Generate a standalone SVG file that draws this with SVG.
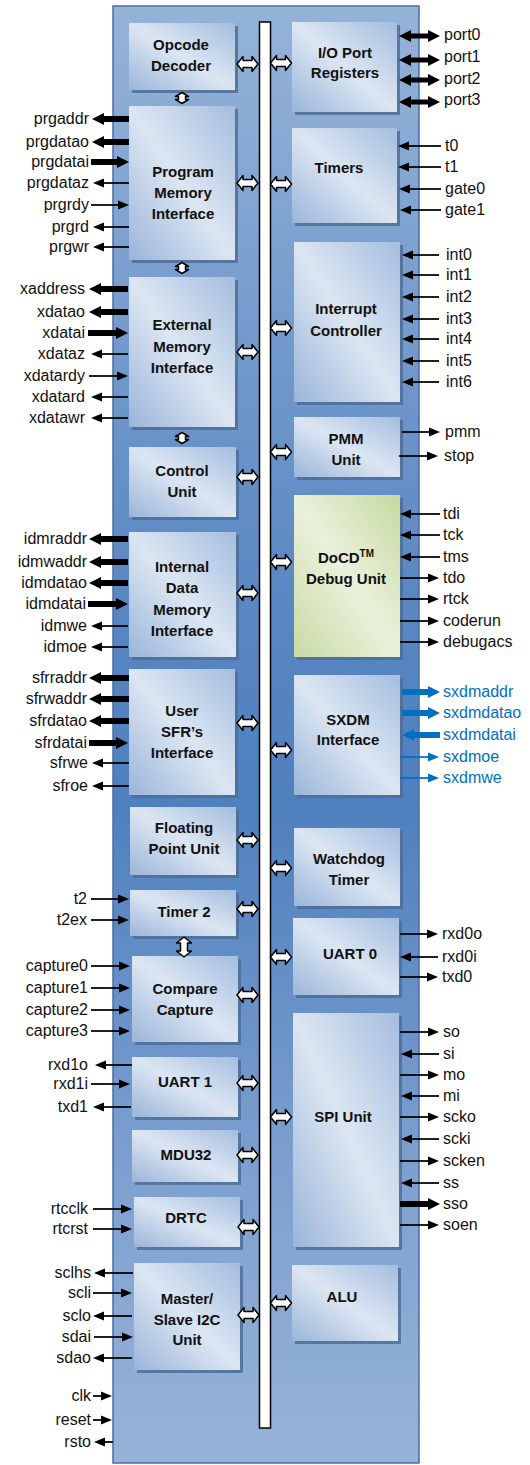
<svg xmlns="http://www.w3.org/2000/svg" xmlns:xlink="http://www.w3.org/1999/xlink" width="530" height="1465" viewBox="0 0 530 1465">
<style>
text{font-family:"Liberation Sans",Arial,sans-serif;}
.b{font-size:15px;font-weight:bold;fill:#111;text-anchor:middle;}
.sl{font-size:16px;fill:#111;text-anchor:end;}
.sr{font-size:16px;fill:#111;text-anchor:start;}
.blue{fill:#0070c0;}
.blk{fill:url(#bg);}
.grn{fill:url(#gg);}
.sh{fill:#4f6d96;opacity:.85;}
.t{stroke:#000;stroke-width:1.75;fill:none;marker-end:url(#a);}
.T{stroke:#000;stroke-width:6;fill:none;marker-end:url(#A);}
.tb{stroke:#0070c0;stroke-width:1.75;fill:none;marker-end:url(#ab);}
.Tb{stroke:#0070c0;stroke-width:6;fill:none;marker-end:url(#Ab);}
.D{stroke:#000;stroke-width:5;fill:none;marker-start:url(#A);marker-end:url(#A);}
.ba{fill:#fff;stroke:#000;stroke-width:1.5;stroke-linejoin:round;}
</style>
<defs>
<linearGradient id="mg" x1="0" y1="0" x2="0" y2="1">
<stop offset="0" stop-color="#95b3d8"/>
<stop offset="0.42" stop-color="#5886c2"/>
<stop offset="0.55" stop-color="#4f80be"/>
<stop offset="0.8" stop-color="#7ea0d0"/>
<stop offset="1" stop-color="#96b3d8"/>
</linearGradient>
<linearGradient id="bg" x1="0" y1="1" x2="1" y2="0">
<stop offset="0" stop-color="#9ab5da"/>
<stop offset="0.5" stop-color="#dce6f2"/>
<stop offset="1" stop-color="#a4bddf"/>
</linearGradient>
<linearGradient id="gg" x1="0" y1="1" x2="1" y2="0">
<stop offset="0" stop-color="#c8daa3"/>
<stop offset="0.5" stop-color="#eaf1dc"/>
<stop offset="1" stop-color="#c6d9a0"/>
</linearGradient>
<marker id="a" markerUnits="userSpaceOnUse" markerWidth="11" markerHeight="9" refX="0" refY="4.5" orient="auto-start-reverse" overflow="visible"><path d="M0,0 L11,4.5 L0,9 Z" fill="#000"/></marker>
<marker id="A" markerUnits="userSpaceOnUse" markerWidth="12" markerHeight="12" refX="0" refY="6" orient="auto-start-reverse" overflow="visible"><path d="M0,0 L12,6 L0,12 Z" fill="#000"/></marker>
<marker id="ab" markerUnits="userSpaceOnUse" markerWidth="11" markerHeight="9" refX="0" refY="4.5" orient="auto-start-reverse" overflow="visible"><path d="M0,0 L11,4.5 L0,9 Z" fill="#0070c0"/></marker>
<marker id="Ab" markerUnits="userSpaceOnUse" markerWidth="12" markerHeight="12" refX="0" refY="6" orient="auto-start-reverse" overflow="visible"><path d="M0,0 L12,6 L0,12 Z" fill="#0070c0"/></marker>
<path id="hb" class="ba" d="M-10.5,0 L-4.5,-7.5 L-4.5,-3.5 L4.5,-3.5 L4.5,-7.5 L10.5,0 L4.5,7.5 L4.5,3.5 L-4.5,3.5 L-4.5,7.5 Z"/>
<path id="vs" class="ba" d="M0,-5.5 L6.5,-1.5 L3.5,-1.5 L3.5,1.5 L6.5,1.5 L0,5.5 L-6.5,1.5 L-3.5,1.5 L-3.5,-1.5 L-6.5,-1.5 Z"/>
<path id="vl" class="ba" d="M0,-10 L7.5,-4 L3.5,-4 L3.5,4 L7.5,4 L0,10 L-7.5,4 L-3.5,4 L-3.5,-4 L-7.5,-4 Z"/>
</defs>

<g id="core">
<rect x="113" y="6" width="306" height="1457" fill="url(#mg)" stroke="#4a6ea3" stroke-width="1.5"/>
<rect x="259.5" y="22" width="11" height="1406" fill="#fff" stroke="#000" stroke-width="1.5"/>
</g>

<g id="opcode"><rect class="sh" x="132" y="26" width="106" height="67"/><rect class="blk" x="129" y="23" width="106" height="67"/><text class="b" x="181" y="50">Opcode</text><text class="b" x="181" y="71">Decoder</text></g>
<g id="progmem"><rect class="sh" x="132" y="109" width="106" height="154"/><rect class="blk" x="129" y="106" width="106" height="154"/><text class="b" x="183" y="177">Program</text><text class="b" x="183" y="198">Memory</text><text class="b" x="183" y="219">Interface</text></g>
<g id="extmem"><rect class="sh" x="132" y="280" width="106" height="150"/><rect class="blk" x="129" y="277" width="106" height="150"/><text class="b" x="182" y="330">External</text><text class="b" x="182" y="352">Memory</text><text class="b" x="182" y="373">Interface</text></g>
<g id="control"><rect class="sh" x="132" y="450" width="107" height="70"/><rect class="blk" x="129" y="447" width="107" height="70"/><text class="b" x="182" y="476">Control</text><text class="b" x="182" y="497">Unit</text></g>
<g id="intdata"><rect class="sh" x="132" y="535" width="107" height="125"/><rect class="blk" x="129" y="532" width="107" height="125"/><text class="b" x="182" y="572">Internal</text><text class="b" x="182" y="593">Data</text><text class="b" x="182" y="615">Memory</text><text class="b" x="182" y="636">Interface</text></g>
<g id="usersfr"><rect class="sh" x="132" y="672" width="106" height="126"/><rect class="blk" x="129" y="669" width="106" height="126"/><text class="b" x="182" y="716">User</text><text class="b" x="182" y="737">SFR’s</text><text class="b" x="182" y="758">Interface</text></g>
<g id="fpu"><rect class="sh" x="133" y="810" width="106" height="68"/><rect class="blk" x="130" y="807" width="106" height="68"/><text class="b" x="184" y="833">Floating</text><text class="b" x="184" y="854">Point Unit</text></g>
<g id="timer2"><rect class="sh" x="133" y="893" width="106" height="46"/><rect class="blk" x="130" y="890" width="106" height="46"/><text class="b" x="184" y="917">Timer 2</text></g>
<g id="compare"><rect class="sh" x="135" y="959" width="106" height="86"/><rect class="blk" x="132" y="956" width="106" height="86"/><text class="b" x="185" y="994">Compare</text><text class="b" x="185" y="1015">Capture</text></g>
<g id="uart1"><rect class="sh" x="135" y="1060" width="106" height="60"/><rect class="blk" x="132" y="1057" width="106" height="60"/><text class="b" x="185" y="1087">UART 1</text></g>
<g id="mdu32"><rect class="sh" x="135" y="1133" width="106" height="52"/><rect class="blk" x="132" y="1130" width="106" height="52"/><text class="b" x="186" y="1160">MDU32</text></g>
<g id="drtc"><rect class="sh" x="137" y="1200" width="106" height="50"/><rect class="blk" x="134" y="1197" width="106" height="50"/><text class="b" x="186" y="1223">DRTC</text></g>
<g id="i2c"><rect class="sh" x="137" y="1266" width="106" height="107"/><rect class="blk" x="134" y="1263" width="106" height="107"/><text class="b" x="187" y="1304">Master/</text><text class="b" x="187" y="1325">Slave I2C</text><text class="b" x="187" y="1345">Unit</text></g>

<g id="ioport"><rect class="sh" x="295" y="25" width="105" height="90"/><rect class="blk" x="292" y="22" width="105" height="90"/><text class="b" x="345" y="58">I/O Port</text><text class="b" x="345" y="78">Registers</text></g>
<g id="timers"><rect class="sh" x="295" y="131" width="105" height="95"/><rect class="blk" x="292" y="128" width="105" height="95"/><text class="b" x="339" y="173">Timers</text></g>
<g id="interrupt"><rect class="sh" x="297" y="245" width="106" height="160"/><rect class="blk" x="294" y="242" width="106" height="160"/><text class="b" x="346" y="314">Interrupt</text><text class="b" x="346" y="336">Controller</text></g>
<g id="pmm"><rect class="sh" x="297" y="420" width="106" height="60"/><rect class="blk" x="294" y="417" width="106" height="60"/><text class="b" x="346" y="444">PMM</text><text class="b" x="346" y="465">Unit</text></g>
<g id="docd"><rect class="sh" x="297" y="498" width="106" height="162"/><rect class="grn" x="294" y="495" width="106" height="162"/><text class="b" x="346" y="563">DoCD<tspan dy="-6" font-size="10">TM</tspan></text><text class="b" x="346" y="584">Debug Unit</text></g>
<g id="sxdm"><rect class="sh" x="297" y="678" width="106" height="120"/><rect class="blk" x="294" y="675" width="106" height="120"/><text class="b" x="348" y="725">SXDM</text><text class="b" x="348" y="745">Interface</text></g>
<g id="watchdog"><rect class="sh" x="297" y="831" width="106" height="78"/><rect class="blk" x="294" y="828" width="106" height="78"/><text class="b" x="349" y="864">Watchdog</text><text class="b" x="349" y="885">Timer</text></g>
<g id="uart0"><rect class="sh" x="296" y="921" width="106" height="77"/><rect class="blk" x="293" y="918" width="106" height="77"/><text class="b" x="350" y="959">UART 0</text></g>
<g id="spi"><rect class="sh" x="296" y="1016" width="106" height="234"/><rect class="blk" x="293" y="1013" width="106" height="234"/><text class="b" x="343" y="1122">SPI Unit</text></g>
<g id="alu"><rect class="sh" x="295" y="1268" width="106" height="76"/><rect class="blk" x="292" y="1265" width="106" height="76"/><text class="b" x="342" y="1302">ALU</text></g>

<g id="connectors">
<!-- bus arrows left -->
<use xlink:href="#hb" x="247.5" y="64"/>
<use xlink:href="#hb" x="247.5" y="183"/>
<use xlink:href="#hb" x="247.5" y="352"/>
<use xlink:href="#hb" x="247.5" y="477"/>
<use xlink:href="#hb" x="247.5" y="593"/>
<use xlink:href="#hb" x="247.5" y="723"/>
<use xlink:href="#hb" x="247.5" y="840"/>
<use xlink:href="#hb" x="247.5" y="909"/>
<use xlink:href="#hb" x="247.5" y="995"/>
<use xlink:href="#hb" x="247.5" y="1083"/>
<use xlink:href="#hb" x="247.5" y="1155"/>
<use xlink:href="#hb" x="248.5" y="1227"/>
<use xlink:href="#hb" x="248.5" y="1315"/>
<!-- bus arrows right -->
<use xlink:href="#hb" x="281" y="63"/>
<use xlink:href="#hb" x="281" y="184"/>
<use xlink:href="#hb" x="281" y="328"/>
<use xlink:href="#hb" x="281" y="452"/>
<use xlink:href="#hb" x="281" y="562"/>
<use xlink:href="#hb" x="281" y="750"/>
<use xlink:href="#hb" x="281" y="868"/>
<use xlink:href="#hb" x="281" y="957"/>
<use xlink:href="#hb" x="281" y="1117"/>
<use xlink:href="#hb" x="281" y="1303"/>
<!-- vertical links -->
<use xlink:href="#vs" x="182" y="98"/>
<use xlink:href="#vs" x="182" y="268"/>
<use xlink:href="#vs" x="182" y="438"/>
<use xlink:href="#vl" x="184" y="947"/>

<!-- program memory -->
<line class="T" x1="129" y1="119" x2="104" y2="119"/>
<line class="T" x1="129" y1="142" x2="104" y2="142"/>
<line class="T" x1="91" y1="162" x2="117" y2="162"/>
<line class="t" x1="129" y1="183" x2="104" y2="183"/>
<line class="t" x1="91" y1="205" x2="118" y2="205"/>
<line class="t" x1="129" y1="227" x2="104" y2="227"/>
<line class="t" x1="129" y1="247" x2="104" y2="247"/>
<!-- external memory -->
<line class="T" x1="128" y1="289" x2="101" y2="289"/>
<line class="T" x1="128" y1="312" x2="101" y2="312"/>
<line class="T" x1="88" y1="333" x2="116" y2="333"/>
<line class="t" x1="128" y1="354" x2="102" y2="354"/>
<line class="t" x1="89" y1="376" x2="117" y2="376"/>
<line class="t" x1="128" y1="397" x2="102" y2="397"/>
<line class="t" x1="128" y1="418" x2="102" y2="418"/>
<!-- internal data memory -->
<line class="T" x1="128" y1="539" x2="101" y2="539"/>
<line class="T" x1="128" y1="562" x2="101" y2="562"/>
<line class="T" x1="128" y1="583" x2="101" y2="583"/>
<line class="T" x1="88" y1="604" x2="116" y2="604"/>
<line class="t" x1="128" y1="626" x2="102" y2="626"/>
<line class="t" x1="128" y1="647" x2="102" y2="647"/>
<!-- user sfr -->
<line class="T" x1="129" y1="678" x2="101" y2="678"/>
<line class="T" x1="129" y1="699" x2="101" y2="699"/>
<line class="T" x1="129" y1="721" x2="101" y2="721"/>
<line class="T" x1="89" y1="743" x2="116" y2="743"/>
<line class="t" x1="129" y1="763" x2="103" y2="763"/>
<line class="t" x1="129" y1="786" x2="103" y2="786"/>
<!-- timer 2 -->
<line class="t" x1="91" y1="899" x2="118" y2="899"/>
<line class="t" x1="91" y1="920" x2="118" y2="920"/>
<!-- compare capture -->
<line class="t" x1="91" y1="966" x2="119" y2="966"/>
<line class="t" x1="91" y1="988" x2="119" y2="988"/>
<line class="t" x1="91" y1="1010" x2="119" y2="1010"/>
<line class="t" x1="91" y1="1031" x2="119" y2="1031"/>
<!-- uart 1 -->
<line class="t" x1="132" y1="1065" x2="106" y2="1065"/>
<line class="t" x1="91" y1="1084" x2="119" y2="1084"/>
<line class="t" x1="131" y1="1107" x2="104" y2="1107"/>
<!-- drtc -->
<line class="t" x1="93" y1="1209" x2="121" y2="1209"/>
<line class="t" x1="93" y1="1229" x2="121" y2="1229"/>
<!-- i2c -->
<line class="t" x1="133" y1="1273" x2="105" y2="1273"/>
<line class="t" x1="93" y1="1293" x2="121" y2="1293"/>
<line class="t" x1="132" y1="1316" x2="104" y2="1316"/>
<line class="t" x1="94" y1="1337" x2="122" y2="1337"/>
<line class="t" x1="132" y1="1358" x2="104" y2="1358"/>
<!-- clk reset rsto -->
<line class="t" x1="93" y1="1396" x2="101" y2="1396"/>
<line class="t" x1="93" y1="1420" x2="101" y2="1420"/>
<line class="t" x1="113" y1="1442" x2="105" y2="1442"/>

<!-- io ports -->
<line class="D" x1="411" y1="36" x2="428" y2="36"/>
<line class="D" x1="411" y1="60" x2="428" y2="60"/>
<line class="D" x1="411" y1="80" x2="428" y2="80"/>
<line class="D" x1="411" y1="102" x2="428" y2="102"/>
<!-- timers -->
<line class="t" x1="441" y1="146" x2="409" y2="146"/>
<line class="t" x1="441" y1="167" x2="409" y2="167"/>
<line class="t" x1="441" y1="189" x2="410" y2="189"/>
<line class="t" x1="441" y1="210" x2="411" y2="210"/>
<!-- interrupts -->
<line class="t" x1="439" y1="255" x2="413" y2="255"/>
<line class="t" x1="439" y1="275" x2="413" y2="275"/>
<line class="t" x1="439" y1="297" x2="413" y2="297"/>
<line class="t" x1="439" y1="319" x2="413" y2="319"/>
<line class="t" x1="439" y1="339" x2="413" y2="339"/>
<line class="t" x1="439" y1="361" x2="413" y2="361"/>
<line class="t" x1="439" y1="382" x2="413" y2="382"/>
<!-- pmm -->
<line class="t" x1="402" y1="432" x2="429" y2="432"/>
<line class="t" x1="399" y1="456" x2="427" y2="456"/>
<!-- docd -->
<line class="t" x1="440" y1="514" x2="411" y2="514"/>
<line class="t" x1="440" y1="535" x2="411" y2="535"/>
<line class="t" x1="440" y1="557" x2="411" y2="557"/>
<line class="t" x1="400" y1="578" x2="428" y2="578"/>
<line class="t" x1="400" y1="599" x2="428" y2="599"/>
<line class="t" x1="400" y1="621" x2="428" y2="621"/>
<line class="t" x1="400" y1="642" x2="428" y2="642"/>
<!-- sxdm -->
<line class="Tb" x1="402" y1="692" x2="428" y2="692"/>
<line class="Tb" x1="402" y1="713" x2="428" y2="713"/>
<line class="Tb" x1="440" y1="735" x2="414" y2="735"/>
<line class="tb" x1="400" y1="757" x2="428" y2="757"/>
<line class="tb" x1="400" y1="778" x2="428" y2="778"/>
<!-- uart 0 -->
<line class="t" x1="400" y1="934" x2="427" y2="934"/>
<line class="t" x1="438" y1="957" x2="411" y2="957"/>
<line class="t" x1="400" y1="977" x2="427" y2="977"/>
<!-- spi -->
<line class="t" x1="400" y1="1032" x2="428" y2="1032"/>
<line class="t" x1="439" y1="1054" x2="412" y2="1054"/>
<line class="t" x1="400" y1="1075" x2="428" y2="1075"/>
<line class="t" x1="439" y1="1096" x2="412" y2="1096"/>
<line class="t" x1="400" y1="1117" x2="428" y2="1117"/>
<line class="t" x1="439" y1="1139" x2="412" y2="1139"/>
<line class="t" x1="400" y1="1161" x2="428" y2="1161"/>
<line class="t" x1="439" y1="1183" x2="412" y2="1183"/>
<line class="T" x1="400" y1="1204" x2="428" y2="1204"/>
<line class="t" x1="400" y1="1225" x2="428" y2="1225"/>
</g>

<g id="signals">
<text class="sl" x="89" y="124">prgaddr</text>
<text class="sl" x="89" y="147">prgdatao</text>
<text class="sl" x="89" y="167">prgdatai</text>
<text class="sl" x="89" y="188">prgdataz</text>
<text class="sl" x="89" y="210">prgrdy</text>
<text class="sl" x="89" y="232">prgrd</text>
<text class="sl" x="89" y="252">prgwr</text>
<text class="sl" x="85" y="294">xaddress</text>
<text class="sl" x="85" y="317">xdatao</text>
<text class="sl" x="85" y="338">xdatai</text>
<text class="sl" x="85" y="359">xdataz</text>
<text class="sl" x="85" y="381">xdatardy</text>
<text class="sl" x="85" y="402">xdatard</text>
<text class="sl" x="85" y="423">xdatawr</text>
<text class="sl" x="87" y="544">idmraddr</text>
<text class="sl" x="87" y="567">idmwaddr</text>
<text class="sl" x="87" y="588">idmdatao</text>
<text class="sl" x="86" y="609">idmdatai</text>
<text class="sl" x="87" y="631">idmwe</text>
<text class="sl" x="87" y="652">idmoe</text>
<text class="sl" x="87" y="683">sfrraddr</text>
<text class="sl" x="87" y="704">sfrwaddr</text>
<text class="sl" x="87" y="726">sfrdatao</text>
<text class="sl" x="87" y="748">sfrdatai</text>
<text class="sl" x="88" y="768">sfrwe</text>
<text class="sl" x="88" y="791">sfroe</text>
<text class="sl" x="87" y="904">t2</text>
<text class="sl" x="87" y="925">t2ex</text>
<text class="sl" x="88" y="971">capture0</text>
<text class="sl" x="88" y="993">capture1</text>
<text class="sl" x="88" y="1015">capture2</text>
<text class="sl" x="88" y="1036">capture3</text>
<text class="sl" x="88" y="1070">rxd1o</text>
<text class="sl" x="88" y="1089">rxd1i</text>
<text class="sl" x="88" y="1112">txd1</text>
<text class="sl" x="88" y="1214">rtcclk</text>
<text class="sl" x="88" y="1234">rtcrst</text>
<text class="sl" x="91" y="1278">sclhs</text>
<text class="sl" x="91" y="1298">scli</text>
<text class="sl" x="91" y="1321">sclo</text>
<text class="sl" x="91" y="1342">sdai</text>
<text class="sl" x="91" y="1363">sdao</text>
<text class="sl" x="91" y="1401">clk</text>
<text class="sl" x="91" y="1425">reset</text>
<text class="sl" x="91" y="1447">rsto</text>

<text class="sr" x="444" y="40">port0</text>
<text class="sr" x="444" y="62">port1</text>
<text class="sr" x="444" y="84">port2</text>
<text class="sr" x="444" y="105">port3</text>
<text class="sr" x="445" y="151">t0</text>
<text class="sr" x="445" y="172">t1</text>
<text class="sr" x="445" y="194">gate0</text>
<text class="sr" x="445" y="215">gate1</text>
<text class="sr" x="446" y="260">int0</text>
<text class="sr" x="446" y="280">int1</text>
<text class="sr" x="446" y="302">int2</text>
<text class="sr" x="446" y="324">int3</text>
<text class="sr" x="446" y="344">int4</text>
<text class="sr" x="446" y="366">int5</text>
<text class="sr" x="446" y="387">int6</text>
<text class="sr" x="445" y="437">pmm</text>
<text class="sr" x="444" y="461">stop</text>
<text class="sr" x="443" y="519">tdi</text>
<text class="sr" x="443" y="540">tck</text>
<text class="sr" x="443" y="562">tms</text>
<text class="sr" x="443" y="583">tdo</text>
<text class="sr" x="443" y="604">rtck</text>
<text class="sr" x="443" y="626">coderun</text>
<text class="sr" x="443" y="647">debugacs</text>
<text class="sr blue" x="443" y="697">sxdmaddr</text>
<text class="sr blue" x="443" y="718">sxdmdatao</text>
<text class="sr blue" x="443" y="740">sxdmdatai</text>
<text class="sr blue" x="443" y="762">sxdmoe</text>
<text class="sr blue" x="443" y="783">sxdmwe</text>
<text class="sr" x="442" y="939">rxd0o</text>
<text class="sr" x="442" y="962">rxd0i</text>
<text class="sr" x="442" y="982">txd0</text>
<text class="sr" x="443" y="1037">so</text>
<text class="sr" x="443" y="1059">si</text>
<text class="sr" x="443" y="1080">mo</text>
<text class="sr" x="443" y="1101">mi</text>
<text class="sr" x="443" y="1122">scko</text>
<text class="sr" x="443" y="1144">scki</text>
<text class="sr" x="443" y="1166">scken</text>
<text class="sr" x="443" y="1188">ss</text>
<text class="sr" x="443" y="1209">sso</text>
<text class="sr" x="443" y="1230">soen</text>
</g>
</svg>
